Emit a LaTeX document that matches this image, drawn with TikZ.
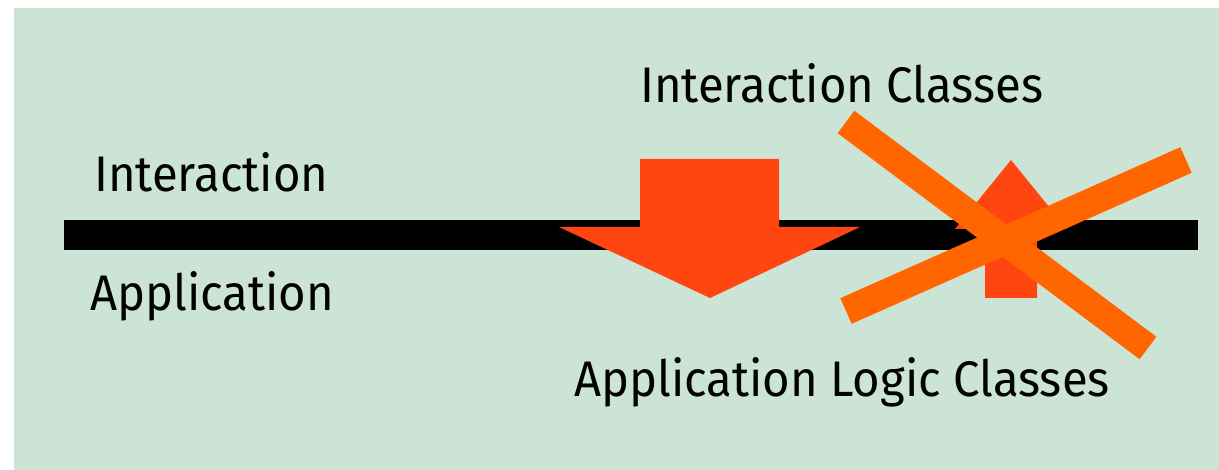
\documentclass[tikz,border=0pt]{standalone}
\usepackage{fontspec}
\setmainfont{Fira Sans}[FakeStretch=0.945]
\definecolor{bggreen}{RGB}{204,228,213}
\definecolor{arrowred}{RGB}{255,70,17}
\definecolor{crossorange}{RGB}{255,102,0}
\tikzset{
  lbl/.style={anchor=base west, inner sep=0pt, font=\fontsize{50}{60}\selectfont, text=black},
  bigarrow/.style={fill=arrowred, draw=none},
  crossbar/.style={draw=crossorange, line width=28pt, line cap=butt},
}
\begin{document}
\begin{tikzpicture}[x=1pt,y=-1pt]
\useasboundingbox (0,0) rectangle (1219,470);
\fill[white] (0,0) rectangle (1219,470);
\fill[bggreen] (14,8) rectangle (1219,470);
% separator bar
\fill[black] (64,220) rectangle (1198,250);
% down arrow
\fill[bigarrow] (640,159) -- (779,159) -- (779,227) -- (860,227) -- (710,298) -- (559,227) -- (640,227) -- cycle;
% up arrow
\fill[bigarrow] (985,298) -- (1037,298) -- (1037,229) -- (1067,229) -- (1011,160) -- (955,229) -- (985,229) -- cycle;
% cross
\coordinate (c1a) at (846,122);
\coordinate (c1b) at (1148,348);
\coordinate (c2a) at (846,311);
\coordinate (c2b) at (1186,160);
\draw[crossbar] (c1a) -- (c1b);
\draw[crossbar] (c2a) -- (c2b);
% labels
\node[lbl] (ic) at (640,103) {Interaction Classes};
\node[lbl] (inter) at (94,192) {Interaction};
\node[lbl] (appl) at (90,311) {Application};
\node[lbl] (alc) at (574,396) {Application Logic Classes};
\end{tikzpicture}
\end{document}
